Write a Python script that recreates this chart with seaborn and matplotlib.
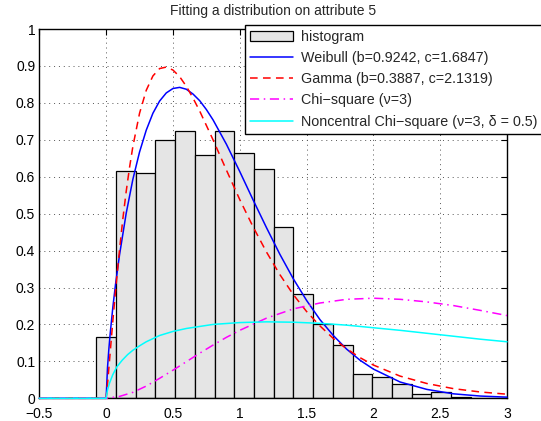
import matplotlib
matplotlib.use("Agg")
import matplotlib.pyplot as plt
import seaborn as sns
from matplotlib.patches import Patch
from matplotlib.lines import Line2D
from matplotlib.ticker import FixedLocator, FixedFormatter

# ---------------- data ----------------
title = "Fitting a distribution on attribute 5"

bin_width = 0.1475
bin_centers = [0.0, 0.1475, 0.295, 0.4425, 0.59, 0.7375, 0.885, 1.0325, 1.18,
               1.3275, 1.475, 1.6225, 1.77, 1.9175, 2.065, 2.2125, 2.36,
               2.5075, 2.655, 2.8025, 2.95]
bar_heights = [0.165, 0.616, 0.611, 0.699, 0.723, 0.660, 0.725, 0.663, 0.621,
               0.465, 0.282, 0.200, 0.144, 0.065, 0.057, 0.038, 0.012, 0.017,
               0.003, 0.002, 0.002]

weibull_x = [-0.5, 0, 0.01, 0.02, 0.03, 0.05, 0.07, 0.1, 0.15, 0.2, 0.25, 0.3,
             0.35, 0.4, 0.45, 0.5, 0.55, 0.6, 0.65, 0.7, 0.75, 0.8, 0.9, 1.0,
             1.1, 1.2, 1.3, 1.4, 1.5, 1.6, 1.7, 1.8, 1.9, 2.0, 2.2, 2.4, 2.6,
             2.8, 3.0]
weibull_y = [0, 0, 0.082, 0.132, 0.174, 0.246, 0.308, 0.388, 0.501, 0.593,
             0.667, 0.726, 0.772, 0.805, 0.827, 0.839, 0.842, 0.837, 0.824,
             0.806, 0.782, 0.754, 0.688, 0.614, 0.537, 0.462, 0.390, 0.324,
             0.265, 0.213, 0.170, 0.133, 0.103, 0.079, 0.044, 0.024, 0.012,
             0.006, 0.003]

gamma_x = [-0.5, 0, 0.01, 0.02, 0.03, 0.05, 0.07, 0.1, 0.125, 0.15, 0.175,
           0.2, 0.25, 0.3, 0.35, 0.4, 0.45, 0.5, 0.55, 0.6, 0.65, 0.7, 0.75,
           0.8, 0.9, 1.0, 1.1, 1.2, 1.3, 1.4, 1.5, 1.6, 1.7, 1.8, 1.9, 2.0,
           2.2, 2.4, 2.6, 2.8, 3.0]
gamma_y = [0, 0, 0.037, 0.080, 0.123, 0.209, 0.290, 0.402, 0.486, 0.560,
           0.625, 0.682, 0.772, 0.834, 0.873, 0.893, 0.897, 0.889, 0.871,
           0.845, 0.813, 0.778, 0.739, 0.700, 0.618, 0.538, 0.464, 0.396,
           0.335, 0.281, 0.235, 0.196, 0.162, 0.134, 0.110, 0.090, 0.060,
           0.040, 0.026, 0.017, 0.011]

chi_x = [-0.5, 0, 0.1, 0.2, 0.3, 0.4, 0.5, 0.6, 0.7, 0.8, 0.9, 1.0, 1.2, 1.4,
         1.6, 1.8, 2.0, 2.2, 2.4, 2.6, 2.8, 3.0]
chi_y = [0, 0, 0.005, 0.016, 0.033, 0.054, 0.076, 0.099, 0.122, 0.144, 0.165,
         0.184, 0.217, 0.242, 0.258, 0.268, 0.271, 0.268, 0.261, 0.251, 0.238,
         0.224]

ncx_x = [-0.5, 0, 0.01, 0.025, 0.05, 0.08, 0.12, 0.16, 0.2, 0.25, 0.3, 0.4,
         0.5, 0.6, 0.8, 1.0, 1.2, 1.4, 1.6, 1.8, 2.0, 2.2, 2.4, 2.6, 2.8, 3.0]
ncx_y = [0, 0, 0.022, 0.041, 0.064, 0.085, 0.103, 0.118, 0.130, 0.142, 0.153,
         0.170, 0.181, 0.189, 0.200, 0.205, 0.207, 0.206, 0.203, 0.198, 0.191,
         0.184, 0.176, 0.168, 0.160, 0.153]

labels = ["histogram",
          "Weibull (b=0.9242, c=1.6847)",
          "Gamma (b=0.3887, c=2.1319)",
          "Chi\u2212square (\u03bd=3)",
          "Noncentral Chi\u2212square (\u03bd=3, \u03b4 = 0.5)"]

xticks = [-0.5, 0, 0.5, 1, 1.5, 2, 2.5, 3]
xticklabels = ["\u22120.5", "0", "0.5", "1", "1.5", "2", "2.5", "3"]
yticks = [0, 0.1, 0.2, 0.3, 0.4, 0.5, 0.6, 0.7, 0.8, 0.9, 1]
yticklabels = ["0", "0.1", "0.2", "0.3", "0.4", "0.5", "0.6", "0.7", "0.8", "0.9", "1"]

# ---------------- style ----------------
sns.set_style("white")
plt.rcParams['font.family'] = ['Liberation Sans', 'DejaVu Sans']
plt.rcParams['font.size'] = 10
plt.rcParams['axes.unicode_minus'] = True

fig = plt.figure(figsize=(5.41, 4.21), dpi=100)
ax = fig.add_axes([0.0727, 0.054, 0.8645, 0.877])

edges = [c - bin_width / 2 for c in bin_centers] + [bin_centers[-1] + bin_width / 2]
sns.histplot(x=bin_centers, weights=bar_heights, bins=edges, stat="count",
             color="#e5e5e5", edgecolor="black", linewidth=0.9, alpha=1.0,
             ax=ax, zorder=2)

lw = 1.1
dash_gamma = (0, (5, 3.5))
dash_chi = (0, (6, 3, 1, 3))
sns.lineplot(x=weibull_x, y=weibull_y, color="#0000ff", lw=lw, sort=False,
             estimator=None, ax=ax, zorder=3, clip_on=False)
sns.lineplot(x=gamma_x, y=gamma_y, color="#ff0000", lw=lw, sort=False,
             estimator=None, ax=ax, zorder=3, linestyle=dash_gamma,
             clip_on=False)
sns.lineplot(x=chi_x, y=chi_y, color="#ff00ff", lw=lw, sort=False,
             estimator=None, ax=ax, zorder=3, linestyle=dash_chi,
             clip_on=False)
sns.lineplot(x=ncx_x, y=ncx_y, color="#00ffff", lw=lw, sort=False,
             estimator=None, ax=ax, zorder=3, clip_on=False)

ax.set_xlim(-0.5, 3)
ax.set_ylim(0, 1)
ax.xaxis.set_major_locator(FixedLocator(xticks))
ax.xaxis.set_major_formatter(FixedFormatter(xticklabels))
ax.yaxis.set_major_locator(FixedLocator(yticks))
ax.yaxis.set_major_formatter(FixedFormatter(yticklabels))
ax.set_xlabel("")
ax.set_ylabel("")
ax.set_axisbelow(True)
ax.grid(True, color="#555555", linestyle=(0, (1, 4)), linewidth=0.7)
ax.tick_params(direction="in", top=True, right=True, length=4, width=0.8,
               labelsize=10, colors="black")
ax.tick_params(axis="x", pad=6)
ax.tick_params(axis="y", pad=3)
for s in ax.spines.values():
    s.set_color("black")
    s.set_linewidth(1.0)
ax.set_title(title, fontsize=10, pad=10)

handles = [Patch(facecolor="#e5e5e5", edgecolor="black", linewidth=0.9),
           Line2D([], [], color="#0000ff", lw=lw),
           Line2D([], [], color="#ff0000", lw=lw, linestyle=dash_gamma),
           Line2D([], [], color="#ff00ff", lw=lw, linestyle=dash_chi),
           Line2D([], [], color="#00ffff", lw=lw)]
leg = fig.legend(handles, labels, loc="upper left",
                 bbox_to_anchor=(0.453, 0.9406), borderaxespad=0,
                 fontsize=10.3, frameon=True, fancybox=False, framealpha=1,
                 edgecolor="black", handlelength=3.0, handletextpad=0.55,
                 labelspacing=0.5, borderpad=0.35)
leg.get_frame().set_linewidth(1.0)

fig.savefig("out.png", dpi=100)
